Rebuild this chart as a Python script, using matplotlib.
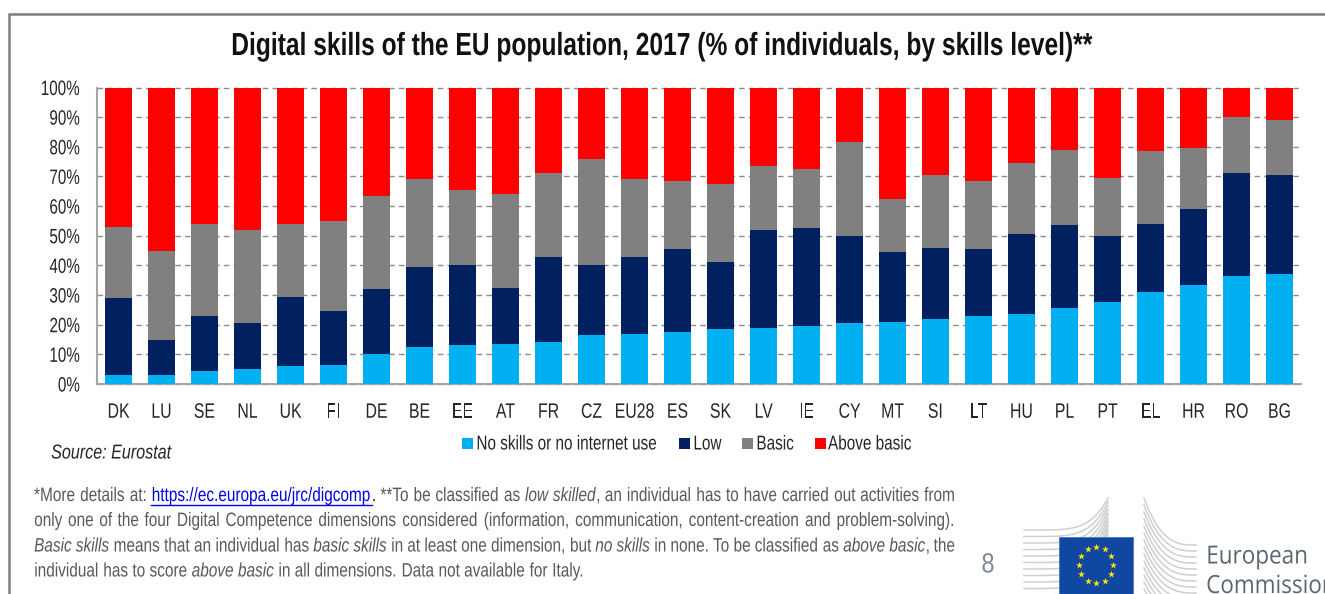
import numpy as np
import matplotlib
matplotlib.use("Agg")
import matplotlib.pyplot as plt
from matplotlib.patches import Rectangle
from matplotlib.patheffects import AbstractPathEffect
from matplotlib.transforms import Affine2D, Bbox

W, H = 1325, 594
FONT = "Liberation Sans"

countries = ["DK", "LU", "SE", "NL", "UK", "FI", "DE", "BE", "EE", "AT", "FR", "CZ", "EU28", "ES",
             "SK", "LV", "IE", "CY", "MT", "SI", "LT", "HU", "PL", "PT", "EL", "HR", "RO", "BG"]
no_skills = [3, 3, 4.5, 5, 6, 6.5, 10, 12.5, 13, 13.5, 14, 16.5, 17, 17.5,
             18.5, 19, 19.5, 20.5, 21, 22, 23, 23.5, 25.5, 27.5, 31, 33.5, 36.5, 37]
low = [26, 12, 18.5, 15.5, 23.5, 18, 22, 27, 27, 19, 29, 23.5, 26, 28,
       22.5, 33, 33, 29.5, 23.5, 24, 22.5, 27, 28, 22.5, 23, 25.5, 34.5, 33.5]
basic = [24, 30, 31, 31.5, 24.5, 30.5, 31.5, 29.5, 25.5, 31.5, 28, 36, 26, 23,
         26.5, 21.5, 20, 31.5, 18, 24.5, 23, 24, 25.5, 19.5, 24.5, 20.5, 19, 18.5]
above_basic = [47, 55, 46, 48, 46, 45, 36.5, 31, 34.5, 36, 29, 24, 31, 31.5,
               32.5, 26.5, 27.5, 18.5, 37.5, 29.5, 31.5, 25.5, 21, 30.5, 21.5, 20.5, 10, 11]

series_names = ["No skills or no internet use", "Low", "Basic", "Above basic"]
series_colors = ["#00b0f0", "#002060", "#808080", "#ff0000"]
y_ticks = list(range(0, 101, 10))

title = "Digital skills of the EU population, 2017 (% of individuals, by skills level)**"
source = "Source: Eurostat"

# (text, italic, link) pieces for each footnote line
foot_lines = [
    [("*More details at: ", False, False), ("https://ec.europa.eu/jrc/digcomp", False, True),
     (". **To be classified as ", False, False), ("low skilled", True, False),
     (", an individual has to have carried out activities from", False, False)],
    [("only one of the four Digital Competence dimensions considered (information, communication, "
      "content-creation and problem-solving).", False, False)],
    [("Basic skills", True, False), (" means that an individual has ", False, False), ("basic skills", True, False),
     (" in at least one dimension, but ", False, False), ("no skills", True, False),
     (" in none. To be classified as ", False, False), ("above basic", True, False), (", the", False, False)],
    [("individual has to score ", False, False), ("above basic", True, False),
     (" in all dimensions. Data not available for Italy.", False, False)],
]
foot_y = [496.5, 521.5, 547, 572]


# the reference text is a horizontally squeezed Arial, and no narrow font is installed
class Squeeze(AbstractPathEffect):
    def __init__(self, sx, anchor):
        super().__init__()
        self.sx = sx
        self.anchor = anchor

    def draw_path(self, renderer, gc, tpath, affine, rgbFace=None):
        ext = tpath.get_extents(affine)
        x0 = {"left": ext.x0, "center": (ext.x0 + ext.x1) / 2, "right": ext.x1}[self.anchor]
        squeezed = affine + Affine2D().translate(-x0, 0).scale(self.sx, 1).translate(x0, 0)
        renderer.draw_path(gc, tpath, squeezed, rgbFace)


def slim(t, sx):
    anchor = t.get_ha()
    t.set_path_effects([Squeeze(sx, anchor)])
    orig = t.get_window_extent

    def extent(renderer=None, dpi=None):
        bb = orig(renderer, dpi)
        x0 = {"left": bb.x0, "center": (bb.x0 + bb.x1) / 2, "right": bb.x1}[anchor]
        return Bbox([[x0 + (bb.x0 - x0) * sx, bb.y0], [x0 + (bb.x1 - x0) * sx, bb.y1]])

    t.get_window_extent = extent
    return t


fig = plt.figure(figsize=(W / 100, H / 100), dpi=100, facecolor="white")

# overlay in pixel coordinates, y going down like the image
bg = fig.add_axes([0, 0, 1, 1])
bg.set_xlim(0, W)
bg.set_ylim(H, 0)
bg.axis("off")

ax = fig.add_axes([97 / W, 1 - 384 / H, (1301 - 97) / W, (384 - 87.5) / H])
ax.patch.set_alpha(0)
x = np.arange(len(countries))
bottom = np.zeros(len(countries))
for vals, name, col in zip([no_skills, low, basic, above_basic], series_names, series_colors):
    ax.bar(x, vals, 0.64, bottom=bottom, color=col, label=name, zorder=3)
    bottom += np.array(vals)

ax.set_xlim(-0.5, len(countries) - 0.5)
ax.set_ylim(0, 100)
ax.set_yticks(y_ticks)
ax.set_yticklabels([f"{t}%" for t in y_ticks], fontsize=15, family=FONT, color="#262626")
ax.set_xticks(x)
ax.set_xticklabels(countries, fontsize=15, family=FONT, color="#262626")
ax.tick_params(axis="both", length=0)
ax.tick_params(axis="x", pad=13.5)
ax.tick_params(axis="y", pad=12)
for lab in ax.get_yticklabels():
    slim(lab, 0.73)
for lab in ax.get_xticklabels():
    slim(lab, 0.76)
ax.grid(axis="y", color="#8c8c8c", ls=(0, (4, 3)), lw=1, zorder=1, clip_on=False)
for side in ["top", "right"]:
    ax.spines[side].set_visible(False)
for side in ["left", "bottom"]:
    ax.spines[side].set_color("#a6a6a6")
    ax.spines[side].set_linewidth(1.5)

# frame of the slide
bg.plot([9, 9, W], [H, 13.5, 13.5], color="#7f7f7f", lw=1.8, solid_joinstyle="miter")

slim(bg.text(662, 47, title, ha="center", va="center", fontsize=23, fontweight="bold",
             family=FONT, color="#111111"), 0.77)
slim(bg.text(51, 453, source, ha="left", va="center", fontsize=14.5, style="italic",
             family=FONT, color="#262626"), 0.8)

# legend, squares and labels placed by hand since the labels are squeezed
legend_box_x = [462, 679, 742, 815]
legend_text_x = [476, 693, 756, 828]
for name, col, bx, tx in zip(series_names, series_colors, legend_box_x, legend_text_x):
    bg.add_patch(Rectangle((bx, 438), 10.5, 10.5, facecolor=col, edgecolor="none"))
    slim(bg.text(tx, 444, name, ha="left", va="center", fontsize=14.5, family=FONT, color="#262626"), 0.76)

# footnote, justified between two pixel limits
renderer = fig.canvas.get_renderer()
FOOT_SIZE = 14
FOOT_SX = 0.79


def text_w(s, italic):
    t = bg.text(0, 0, s, fontsize=FOOT_SIZE, family=FONT, style="italic" if italic else "normal")
    w = t.get_window_extent(renderer).width
    t.remove()
    return w * FOOT_SX


foot_left, foot_right = 34, 955
for i, (pieces, yy) in enumerate(zip(foot_lines, foot_y)):
    words = []
    for s, it, link in pieces:
        for j, p in enumerate(s.split(" ")):
            # a piece boundary without a space stays glued to the previous word
            words.append((p, it, link, j > 0))
    space = text_w("a b", False) - text_w("ab", False)
    total = sum(text_w(w[0], w[1]) for w in words if w[0])
    gaps = sum(1 for k, w in enumerate(words) if w[3] and k > 0)
    extra = space
    if i < len(foot_lines) - 1:
        extra = (foot_right - foot_left - total) / max(gaps, 1)
    pos = foot_left
    for k, (p, it, link, sp) in enumerate(words):
        if sp and k > 0:
            pos += extra
        if not p:
            continue
        col = "#0000ee" if link else "#595959"
        slim(bg.text(pos, yy, p, fontsize=FOOT_SIZE, family=FONT, style="italic" if it else "normal",
                     color=col, ha="left", va="center"), FOOT_SX)
        wd = text_w(p, it)
        if link:
            bg.plot([pos, pos + wd + 0.5], [yy + 8, yy + 8], color=col, lw=1)
        pos += wd

slim(bg.text(988, 565.5, "8", ha="center", va="center", fontsize=20, color="#7f8a99", family=FONT), 0.85)

# logo: building wings made of curved grey stripes
t = np.linspace(0, 1, 40)
for k in range(11):
    ly_start = 530 + k * 6.5
    ly_end = 498 + k * 4
    bg.plot(1024 + t * 84, ly_start + (ly_end - ly_start) * t ** 5, color="#cfcfcf", lw=1.1, zorder=1)
for k in range(15):
    ry_start = 498 + k * 7
    ry_end = 545 + k * 6
    bg.plot(1144 + t * 52, ry_start + (ry_end - ry_start) * (1 - (1 - t) ** 3), color="#cfcfcf", lw=1.1, zorder=1)
bg.add_patch(Rectangle((1059, 537), 74, 57, facecolor="#0f47a1", edgecolor="#3f6fc0", lw=0.5, zorder=2))
ang = np.deg2rad(np.arange(0, 360, 30))
bg.scatter(1096 + 17 * np.sin(ang), 565 - 18 * np.cos(ang), marker="*", s=28, color="#ffe600", lw=0, zorder=3)
slim(bg.text(1206, 557, "European", ha="left", va="center", fontsize=18, color="#5c6670", family="Open Sans"), 0.9)
slim(bg.text(1206, 586.5, "Commission", ha="left", va="center", fontsize=18, color="#5c6670", family="Open Sans"), 0.9)

fig.savefig("out.png", dpi=100)
